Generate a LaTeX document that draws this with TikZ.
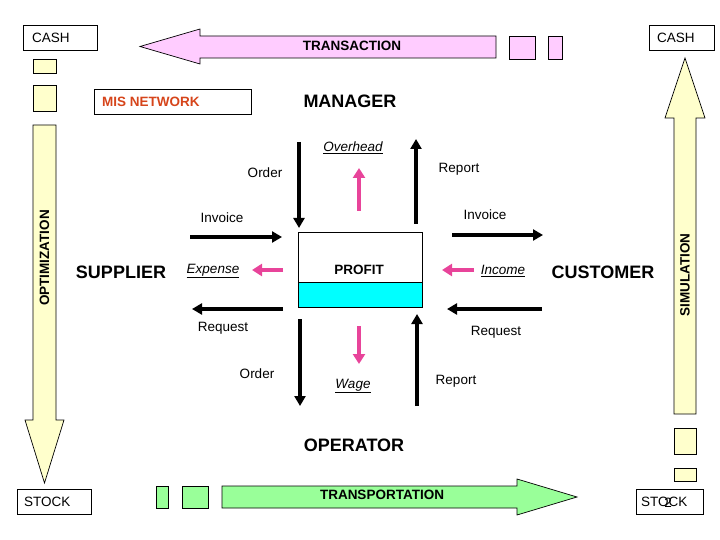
\documentclass[tikz,border=0pt]{standalone}
\usepackage{fontspec}
\setmainfont{Liberation Sans}
\usetikzlibrary{arrows.meta}
\definecolor{pinkfill}{HTML}{FFCCFF}
\definecolor{greenfill}{HTML}{99FF99}
\definecolor{yellowfill}{HTML}{FFFFCC}
\definecolor{profitcyan}{HTML}{00FFFF}
\definecolor{pinkarrow}{HTML}{E8449A}
\definecolor{misred}{HTML}{D6451B}
\begin{document}
\begin{tikzpicture}[x=1pt,y=-1pt,
  lbl/.style={font=\fontsize{13.5}{15}\selectfont, inner sep=0pt},
  ulbl/.style={font=\fontsize{13.5}{15}\selectfont\itshape, inner sep=0pt},
  big/.style={font=\fontsize{18}{20}\selectfont\bfseries, inner sep=0pt},
  bar/.style={font=\fontsize{13.5}{15}\selectfont\bfseries, inner sep=0pt},
  boxed/.style={draw, line width=0.8pt, inner sep=0pt, anchor=north west},
  blk/.style={line width=3.5pt, -{Triangle[length=10pt,width=11pt]}},
  pnk/.style={draw=pinkarrow, line width=4pt, -{Triangle[length=10pt,width=12pt]}},
  blockarrow/.style={draw, line width=0.7pt, line join=miter},
  chip/.style={draw, line width=0.7pt, inner sep=0pt, anchor=north west},
]
\useasboundingbox (0,0) rectangle (720,540);

% corner boxes
\node[boxed, minimum width=74, minimum height=25] (cashLbox) at (23,25) {};
\node[lbl, anchor=west] (cashL) at (32,37.5) {CASH};
\node[boxed, minimum width=65, minimum height=25] (cashRbox) at (649,25) {};
\node[lbl, anchor=west] (cashR) at (657,37.5) {CASH};
\node[boxed, minimum width=74, minimum height=25] (stockLbox) at (17,489) {};
\node[lbl, anchor=west] (stockL) at (24,501.5) {STOCK};
\node[boxed, minimum width=67, minimum height=25] (stockRbox) at (636,489) {};
\node[lbl, anchor=west] (stockR) at (641,501.5) {STOCK};
\node[lbl] (pagenum) at (668,503) {2};

% transaction block arrow
\filldraw[blockarrow, fill=pinkfill] (496,36) -- (200,36) -- (200,29) -- (140,46.5) -- (200,64) -- (200,58) -- (496,58) -- cycle;
\node[bar] (transaction) at (352,46) {TRANSACTION};
\node[chip, fill=pinkfill, minimum width=26, minimum height=23] (tr1) at (509,36) {};
\node[chip, fill=pinkfill, minimum width=14, minimum height=23] (tr2) at (548,36) {};

% transportation block arrow
\filldraw[blockarrow, fill=greenfill] (222,486) -- (517,486) -- (517,479) -- (577,497) -- (517,515) -- (517,508) -- (222,508) -- cycle;
\node[bar] (transport) at (382,495) {TRANSPORTATION};
\node[chip, fill=greenfill, minimum width=12, minimum height=22] (tp1) at (156,486) {};
\node[chip, fill=greenfill, minimum width=26, minimum height=22] (tp2) at (182,486) {};

% optimization (left, downward)
\node[chip, fill=yellowfill, minimum width=23, minimum height=14] (op1) at (33,59) {};
\node[chip, fill=yellowfill, minimum width=23, minimum height=26] (op2) at (33,85) {};
\filldraw[blockarrow, fill=yellowfill] (33,125) -- (56,125) -- (56,420) -- (64,420) -- (44.5,483) -- (25,420) -- (33,420) -- cycle;
\node[bar, rotate=90] (optim) at (44.5,258) {OPTIMIZATION};

% simulation (right, upward)
\filldraw[blockarrow, fill=yellowfill] (674,414) -- (696,414) -- (696,118) -- (705,118) -- (685,58) -- (665,118) -- (674,118) -- cycle;
\node[bar, rotate=90] (simul) at (685,275) {SIMULATION};
\node[chip, fill=yellowfill, minimum width=22, minimum height=26] (sm1) at (674,428) {};
\node[chip, fill=yellowfill, minimum width=22, minimum height=13] (sm2) at (674,468) {};

% MIS network and titles
\node[boxed, minimum width=157, minimum height=25] (misbox) at (94,89) {};
\node[bar, anchor=west, text=misred] (mis) at (102,101.5) {MIS NETWORK};
\node[big] (manager) at (350,101) {MANAGER};
\node[big] (operator) at (354,445) {OPERATOR};
\node[big] (supplier) at (121,272) {SUPPLIER};
\node[big] (customer) at (603,272) {CUSTOMER};

% profit box
\node[chip, minimum width=124, minimum height=50, line width=0.8pt] (profitTop) at (298,232) {};
\node[chip, fill=profitcyan, minimum width=124, minimum height=25, line width=0.8pt] (profitBot) at (298,282) {};
\node[bar] (profit) at (359,270) {PROFIT};

% labels
\node[lbl] (orderT) at (265,173) {Order};
\node[lbl] (reportT) at (459,169) {Report};
\node[ulbl] (overhead) at (353,148) {\underline{Overhead}};
\node[lbl] (invoiceL) at (222,218) {Invoice};
\node[lbl] (invoiceR) at (485,215) {Invoice};
\node[ulbl] (expense) at (213,271) {\underline{Expense}};
\node[ulbl] (income) at (503,271) {\underline{Income}};
\node[lbl] (requestL) at (223,328) {Request};
\node[lbl] (requestR) at (496,332) {Request};
\node[lbl] (orderB) at (257,374) {Order};
\node[ulbl] (wage) at (353,386) {\underline{Wage}};
\node[lbl] (reportB) at (456,381) {Report};

% arrow end points
\coordinate (a1s) at (299,142); \coordinate (a1e) at (299,228);
\coordinate (a2s) at (359,211); \coordinate (a2e) at (359,168);
\coordinate (a3s) at (416,224); \coordinate (a3e) at (416,139);
\coordinate (a4s) at (190,237); \coordinate (a4e) at (282,237);
\coordinate (a5s) at (452,235); \coordinate (a5e) at (543,235);
\coordinate (a6s) at (283,270); \coordinate (a6e) at (252,270);
\coordinate (a7s) at (474,270); \coordinate (a7e) at (442,270);
\coordinate (a8s) at (283,309); \coordinate (a8e) at (192,309);
\coordinate (a9s) at (542,309); \coordinate (a9e) at (447,309);
\coordinate (a10s) at (300,319); \coordinate (a10e) at (300,406);
\coordinate (a11s) at (359,326); \coordinate (a11e) at (359,364);
\coordinate (a12s) at (417,406); \coordinate (a12e) at (417,314);

\draw[blk] (a1s) -- (a1e);
\draw[pnk] (a2s) -- (a2e);
\draw[blk] (a3s) -- (a3e);
\draw[blk] (a4s) -- (a4e);
\draw[blk] (a5s) -- (a5e);
\draw[pnk] (a6s) -- (a6e);
\draw[pnk] (a7s) -- (a7e);
\draw[blk] (a8s) -- (a8e);
\draw[blk] (a9s) -- (a9e);
\draw[blk] (a10s) -- (a10e);
\draw[pnk] (a11s) -- (a11e);
\draw[blk] (a12s) -- (a12e);
\end{tikzpicture}
\end{document}
